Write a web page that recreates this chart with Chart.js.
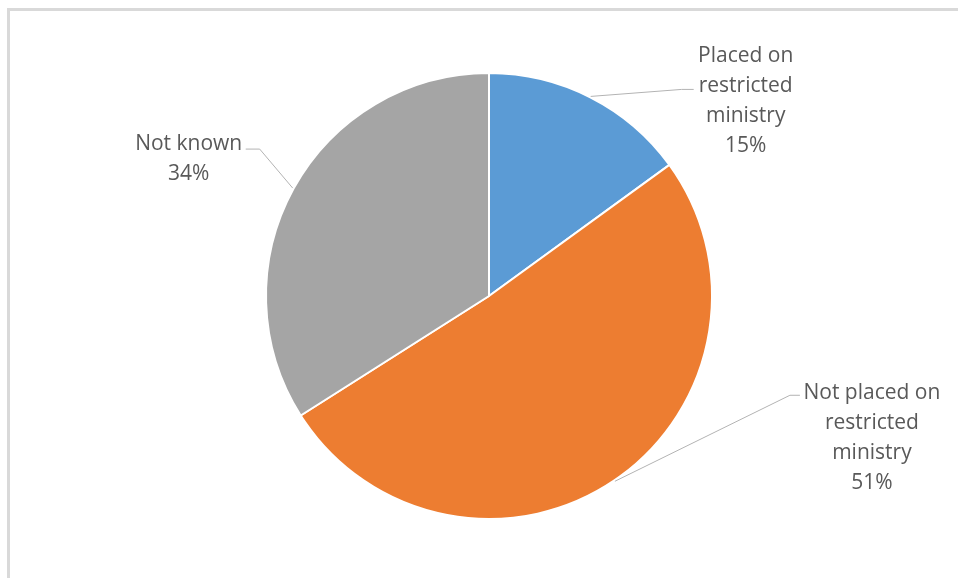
<!DOCTYPE html>
<html>
<head>
<meta charset="utf-8">
<script src="https://cdn.jsdelivr.net/npm/chart.js@4/dist/chart.umd.min.js"></script>
<style>
  html, body { margin: 0; padding: 0; background: #fff; }
  .wrap { position: relative; width: 958px; height: 578px; overflow: hidden; }
  .frame { position: absolute; left: 7px; top: 8px; right: -10px; bottom: -10px;
           border-top: 3px solid #d9d9d9; border-left: 3px solid #d9d9d9; }
  canvas { position: absolute; left: 0; top: 0; }
</style>
</head>
<body>
<div class="wrap">
  <div class="frame"></div>
  <canvas id="myChart" width="958" height="578"></canvas>
</div>
<script>
// data
var categories = [
    ['Placed on', 'restricted', 'ministry'],
    ['Not placed on', 'restricted', 'ministry'],
    ['Not known']
];
var shares = [15, 51, 34];
var colors = ['#5B9BD5', '#ED7D31', '#A5A5A5'];

// label placement, relative to the slice's outer mid point
// tx = text centre x, by = first baseline, elbow/end = leader line points
var labelPos = [
    { tx: 155, by: -34, elbow: [91, -7], end: [103, -7] },
    { tx: 257, by: -82, elbow: [175, -86], end: [185, -86] },
    { tx: -104, by: -38, elbow: [-33, -39], end: [-47, -39] }
];

var labelsPlugin = {
    id: 'sliceLabels',
    afterDraw: function(chart) {
        var ctx = chart.ctx;
        var arcs = chart.getDatasetMeta(0).data;
        ctx.save();
        ctx.font = '21px "Open Sans"';
        ctx.textAlign = 'center';
        ctx.textBaseline = 'alphabetic';
        arcs.forEach(function(arc, i) {
            var p = arc.getProps(['x', 'y', 'startAngle', 'endAngle', 'outerRadius'], true);
            var mid = (p.startAngle + p.endAngle) / 2;
            var ax = p.x + Math.cos(mid) * (p.outerRadius + 1);
            var ay = p.y + Math.sin(mid) * (p.outerRadius + 1);
            var lp = labelPos[i];

            ctx.strokeStyle = '#b3b3b3';
            ctx.lineWidth = 1;
            ctx.beginPath();
            ctx.moveTo(ax, ay);
            ctx.lineTo(ax + lp.elbow[0], ay + lp.elbow[1]);
            ctx.lineTo(ax + lp.end[0], ay + lp.end[1]);
            ctx.stroke();

            var lines = categories[i].concat([shares[i] + '%']);
            ctx.fillStyle = '#595959';
            lines.forEach(function(t, k) {
                ctx.fillText(t, ax + lp.tx, ay + lp.by + k * 29.8);
            });
        });
        ctx.restore();
    }
};

var ctx = document.getElementById('myChart').getContext('2d');
var chart = new Chart(ctx, {
    type: 'pie',
    data: {
        labels: categories.map(function(c) { return c.join(' '); }),
        datasets: [{
            data: shares,
            backgroundColor: colors,
            borderColor: '#ffffff',
            borderWidth: 2
        }]
    },
    options: {
        responsive: false,
        animation: false,
        events: [],
        layout: { padding: { top: 72, bottom: 58, left: 265, right: 245 } },
        plugins: {
            legend: { display: false },
            tooltip: { enabled: false }
        }
    },
    plugins: [labelsPlugin]
});
</script>
</body>
</html>
